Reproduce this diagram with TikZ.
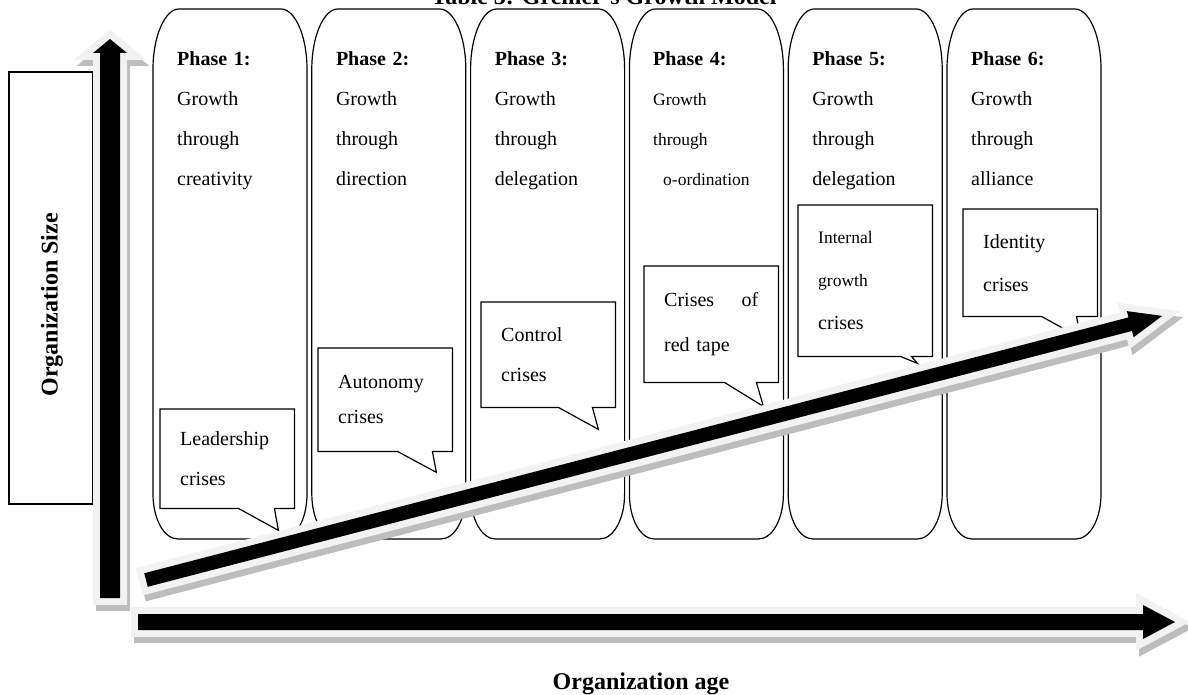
\documentclass[tikz,border=0pt]{standalone}
\usepackage{fontspec}
\setmainfont{Liberation Serif}
\usetikzlibrary{positioning}

\definecolor{axisframe}{HTML}{F2F2F2}
\definecolor{axisshade}{HTML}{BDBDBD}

% block arrow along the x axis: length, half shaft, half head, head length
\newcommand{\axisshape}[4]{(0,-#2) -- (#1-#4,-#2) -- (#1-#4,-#3) -- (#1,0) -- (#1-#4,#3) -- (#1-#4,#2) -- (0,#2) -- cycle}

\begin{document}
\begin{tikzpicture}[
    x=1pt, y=-1pt,
    column/.style={draw, line width=1.2pt},
    phasetext/.style={anchor=base west, inner sep=0pt, align=left, text width=125pt, font=\fontsize{20}{40}\selectfont},
    bubble/.style={rectangle, fill=white, anchor=north west, inner xsep=20pt, inner ysep=0pt, text width=94pt, align=left, font=\fontsize{20}{40}\selectfont},
    bubbleline/.style={draw, line width=1.2pt, line join=miter},
    axislabel/.style={font=\bfseries\fontsize{24}{28}\selectfont},
    axisshadow/.style={draw=axisshade, line width=14pt, fill=axisshade},
    axisbar/.style={draw=axisframe, line width=14pt, fill=black, postaction={fill=black}}
  ]
  \useasboundingbox (0,0) rectangle (1188,695);

  % Title, cut at the top edge
  \node[axislabel, anchor=base] (title) at (604,5) {Table 3: Greiner's Growth Model};

  % Phase columns
  \foreach \i in {1,...,6} {
    \begin{scope}[shift={({153+158.8*(\i-1)},9)}]
      \draw[column] (0,60) .. controls (0,27) and (12,0) .. (26,0) -- (128,0) .. controls (142,0) and (154,27) .. (154,60)
        -- (154,485) .. controls (154,510) and (143,530) .. (129,530) -- (25,530) .. controls (11,530) and (0,510) .. (0,485) -- cycle;
    \end{scope}
  }
  \foreach \i/\mode in {1/creativity, 2/direction, 3/delegation, 5/delegation, 6/alliance}
    \node[phasetext] (phase\i) at ({177+158.8*(\i-1)},66) {\textbf{Phase \i:}\\Growth\\through\\\mode};
  \node[phasetext] (phase4) at (653,66) {\textbf{Phase 4:}\\\fontsize{17.5}{40}\selectfont Growth\\through\\\hspace*{10pt}o-ordination};

  % Crises
  \node[bubble, minimum height=99pt] (lead) at (160,409) {Leadership\\crises};
  \node[bubble, minimum height=103pt, font=\fontsize{20}{35}\selectfont] (auto) at (318,348) {Autonomy\\crises};
  \node[bubble, minimum height=105pt] (ctrl) at (481,302) {Control\\crises};
  \node[bubble, minimum height=116pt, font=\fontsize{20}{45}\selectfont] (tape) at (644,266) {Crises\hspace{0pt plus 1filll}of\\red tape};
  \node[bubble, minimum height=151pt, font=\fontsize{17.5}{43}\selectfont] (inner) at (798,205) {Internal\\growth\\\fontsize{20}{43}\selectfont crises};
  \node[bubble, minimum height=107pt, font=\fontsize{20}{43}\selectfont] (ident) at (963,209) {Identity\\crises};

  \foreach \bub/\a/\b/\tx/\ty in {lead/56/20/16/22, auto/55/20/16/21, ctrl/57/23/17/22, tape/54/22/15/24, inner/32/21/15/7, ident/56/21/16/22}
    \draw[bubbleline] (\bub.north west) -- (\bub.north east) -- (\bub.south east) -- ([xshift=-\b pt]\bub.south east)
      -- ([xshift=-\tx pt, yshift=-\ty pt]\bub.south east) -- ([xshift=-\a pt]\bub.south east) -- (\bub.south west) -- cycle;

  % Axes
  \node[draw, line width=1.2pt, minimum width=84pt, minimum height=432pt] (sizebox) at (51,288) {};
  \node[axislabel, rotate=90] (sizelabel) at (52,305) {Organization Size};

  % shadows first, shifted down right
  \begin{scope}[shift={(3,6)}]
    \begin{scope}[shift={(110,598)}, rotate=90]
      \path[axisshadow] \axisshape{559}{10}{17}{14};
    \end{scope}
    \begin{scope}[shift={(138,622)}]
      \path[axisshadow] \axisshape{1037}{8}{17}{32};
    \end{scope}
    \begin{scope}[shift={(146,580)}, rotate=14.57]
      \path[axisshadow] \axisshape{1050}{7}{13.5}{33};
    \end{scope}
  \end{scope}

  \begin{scope}[shift={(110,598)}, rotate=90]
    \path[axisbar] \axisshape{559}{10}{17}{14};
  \end{scope}
  \begin{scope}[shift={(138,622)}]
    \path[axisbar] \axisshape{1037}{8}{17}{32};
  \end{scope}
  \begin{scope}[shift={(146,580)}, rotate=14.57]
    \path[axisbar] \axisshape{1050}{7}{13.5}{33};
  \end{scope}

  \node[axislabel, anchor=base] (agelabel) at (641,689) {Organization age};
\end{tikzpicture}
\end{document}
